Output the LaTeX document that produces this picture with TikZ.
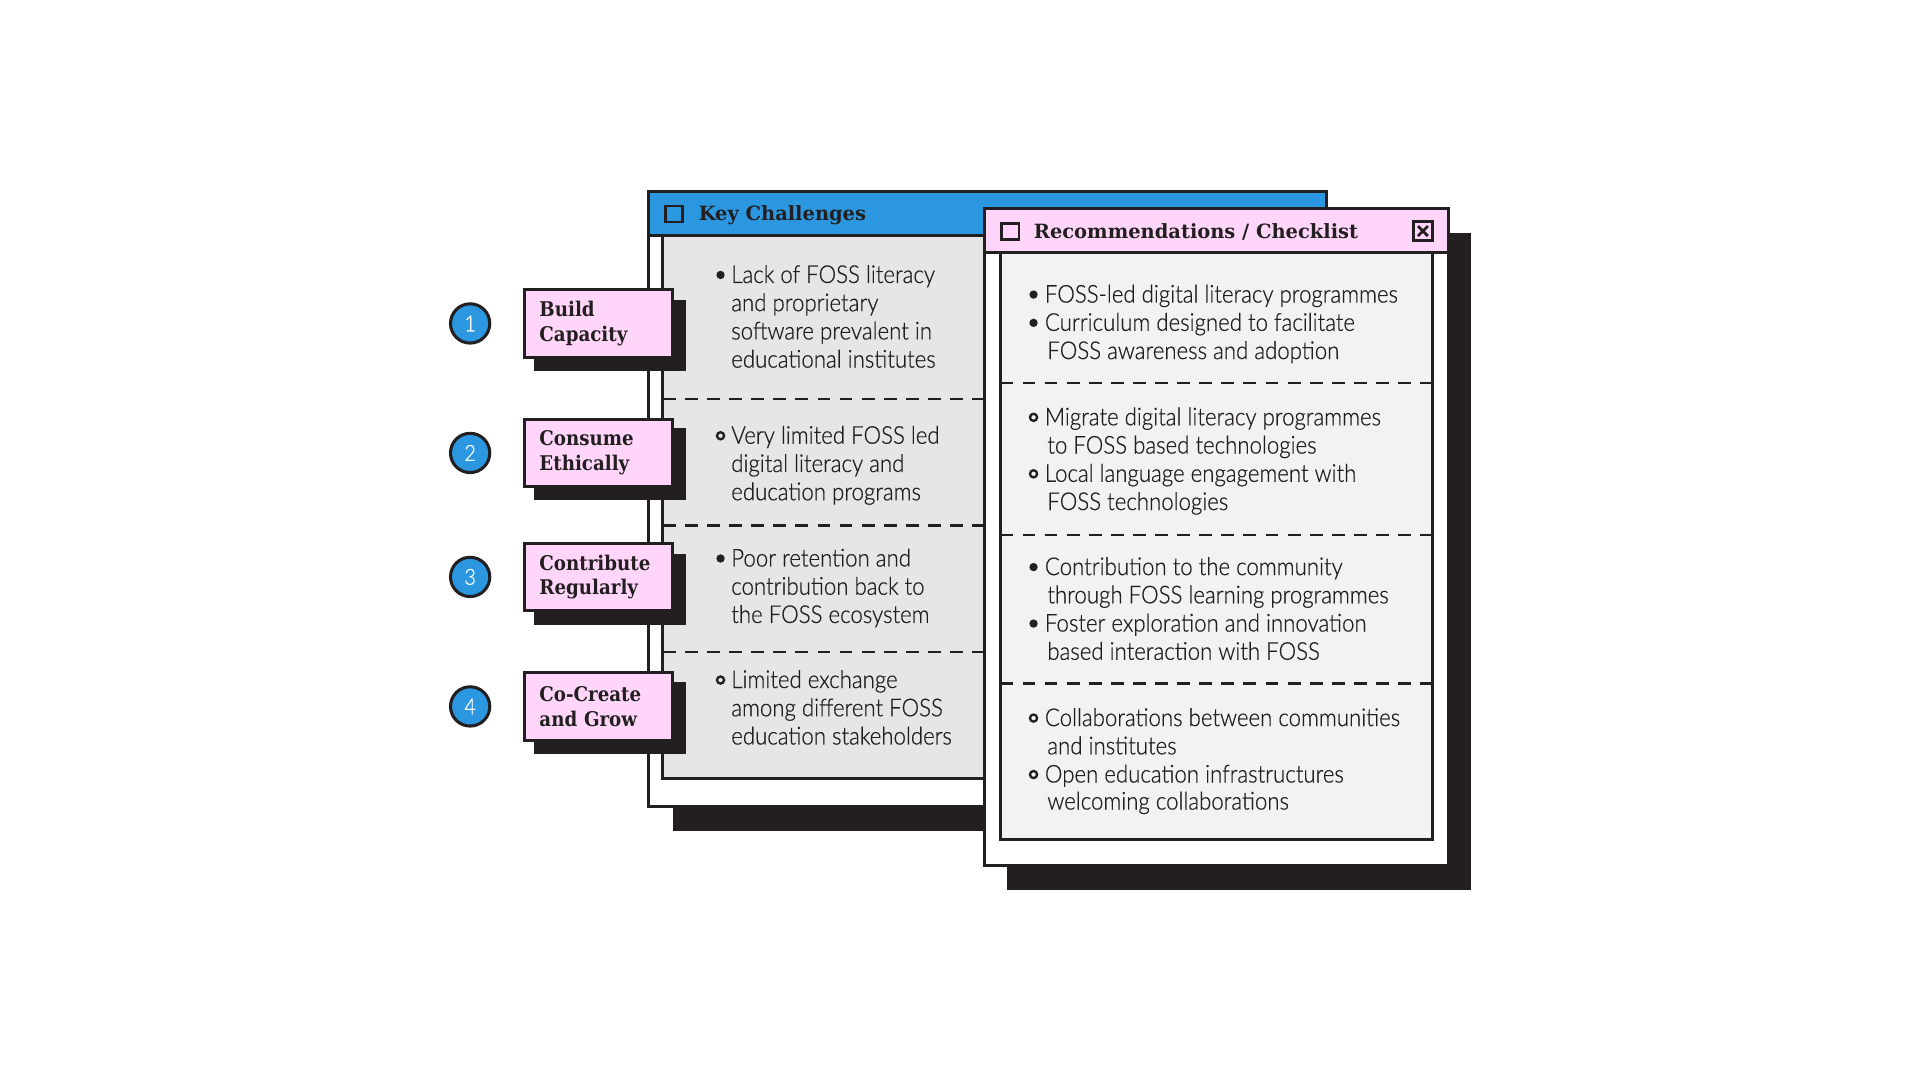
\documentclass[tikz,border=0pt]{standalone}
\usepackage{fontspec}
\setmainfont{Lato Light}[FakeStretch=0.905,FakeBold=0.6]
\newfontfamily\slabfont{DejaVu Serif}[FakeStretch=0.9]
\newfontfamily\headfont{DejaVu Serif}[FakeStretch=0.99]
\usetikzlibrary{positioning}
\definecolor{inkdark}{HTML}{231F20}
\definecolor{winblue}{HTML}{2B97E0}
\definecolor{winpink}{HTML}{FFD6F9}
\definecolor{panelgray}{HTML}{E6E6E6}
\definecolor{panellight}{HTML}{F2F2F2}
\tikzset{every picture/.style={line width=2.5pt}}

\begin{document}
\begin{tikzpicture}[x=1pt,y=1pt,yscale=-1,xscale=1,
	frame/.style={draw=inkdark, line width=2.5pt},
	shadowbox/.style={fill=inkdark},
	divider/.style={draw=inkdark, line width=2pt, dash pattern=on 10.5pt off 7.5pt},
	bodytext/.style={anchor=base west, inner sep=0pt, font=\fontsize{20}{23}\selectfont, text=inkdark},
	titletext/.style={anchor=west, inner sep=0pt, font=\headfont\bfseries\fontsize{16}{20}\selectfont, text=inkdark},
	labelbox/.style={draw=inkdark, line width=2.5pt, fill=winpink, minimum width=121pt, minimum height=55pt, text width=96pt, align=left, inner sep=0pt, font=\slabfont\bfseries\fontsize{16.5}{20}\selectfont, text=inkdark},
	numdot/.style={circle, draw=inkdark, line width=2.5pt, fill=winblue, minimum size=32pt, inner sep=0pt, text=white, font=\fontsize{18}{18}\selectfont},
	fullbullet/.style={fill=inkdark},
	openbullet/.style={draw=inkdark, line width=1.9pt},
	]
	\path (0,0) rectangle (1565,880.7); %page size

	%Key Challenges window
	\fill[shadowbox] (548,176) rectangle (1101,677);
	\draw[frame, fill=white] (528,156) rectangle (1081,657);
	\draw[frame, fill=panelgray] (540,192) rectangle (1069,634);
	\draw[frame, fill=winblue] (528,156) rectangle (1081,192);
	\draw[inkdark, line width=2pt] (542,168) rectangle (556,181);
	\node[titletext] (kctitle) at (568,175) {Key Challenges};
	%dividers
	\draw[divider] (540,325) -- (1069,325);
	\draw[divider] (540,428) -- (1069,428);
	\draw[divider] (540,531) -- (1069,531);

	% Text Node
	\fill[fullbullet] (587,224) circle (3.4);
	\node[bodytext] (kc1a) at (594.5,230.5) {Lack of FOSS literacy};
	\node[bodytext] (kc1b) at (594.5,253.5) {and proprietary};
	\node[bodytext] (kc1c) at (594.5,276.5) {software prevalent in};
	\node[bodytext] (kc1d) at (594.5,299.5) {educational institutes};
	% Text Node
	\draw[openbullet] (587,355) circle (2.9);
	\node[bodytext] (kc2a) at (594.5,361.5) {Very limited FOSS led};
	\node[bodytext] (kc2b) at (594.5,384.5) {digital literacy and};
	\node[bodytext] (kc2c) at (594.5,407.5) {education programs};
	% Text Node
	\fill[fullbullet] (587,455) circle (3.4);
	\node[bodytext] (kc3a) at (594.5,461.5) {Poor retention and};
	\node[bodytext] (kc3b) at (594.5,484.5) {contribution back to};
	\node[bodytext] (kc3c) at (594.5,507.5) {the FOSS ecosystem};
	% Text Node
	\draw[openbullet] (587,554) circle (2.9);
	\node[bodytext] (kc4a) at (594.5,560.5) {Limited exchange};
	\node[bodytext] (kc4b) at (594.5,583.5) {among different FOSS};
	\node[bodytext] (kc4c) at (594.5,606.5) {education stakeholders};

	%Step labels
	\fill[shadowbox] (435,244) rectangle (559,302);
	\node[labelbox] (capacity) at (487.5,263.5) {Build\\Capacity};
	\fill[shadowbox] (435,349) rectangle (559,407);
	\node[labelbox] (ethically) at (487.5,369) {Consume\\Ethically};
	\fill[shadowbox] (435,451) rectangle (559,509);
	\node[labelbox] (regularly) at (487.5,470) {Contribute\\Regularly};
	\fill[shadowbox] (435,556) rectangle (559,614);
	\node[labelbox] (cocreate) at (487.5,575.5) {Co-Create\\and Grow};

	\node[numdot, left=25.5pt of capacity] (step1) {1};
	\node[numdot, left=25.5pt of ethically] (step2) {2};
	\node[numdot, left=25.5pt of regularly] (step3) {3};
	\node[numdot, left=25.5pt of cocreate] (step4) {4};

	%Recommendations window
	\fill[shadowbox] (820,190) rectangle (1198,725);
	\draw[frame, fill=white] (802,170) rectangle (1180,705);
	\draw[frame, fill=panellight] (815,206) rectangle (1167,684);
	\draw[frame, fill=winpink] (802,170) rectangle (1180,206);
	\draw[inkdark, line width=2pt] (816,182) rectangle (830,195);
	\node[titletext] (rectitle) at (841,189) {Recommendations / Checklist};
	\draw[inkdark, line width=2pt] (1151.5,180.5) rectangle (1167,196);
	\draw[inkdark, line width=2.2pt] (1155.2,184.2) -- (1163.3,192.3) (1163.3,184.2) -- (1155.2,192.3);
	%dividers
	\draw[divider] (815,312) -- (1167,312);
	\draw[divider] (815,436) -- (1167,436);
	\draw[divider] (815,557) -- (1167,557);

	% Text Node
	\fill[fullbullet] (842,240) circle (3.4);
	\node[bodytext] (rc1a) at (850,246.5) {FOSS-led digital literacy programmes};
	\fill[fullbullet] (842,263) circle (3.4);
	\node[bodytext] (rc1b) at (850,269.5) {Curriculum designed to facilitate};
	\node[bodytext] (rc1c) at (852,292.5) {FOSS awareness and adoption};
	% Text Node
	\draw[openbullet] (842,340) circle (2.9);
	\node[bodytext] (rc2a) at (850,346.5) {Migrate digital literacy programmes};
	\node[bodytext] (rc2b) at (852,369.5) {to FOSS based technologies};
	\draw[openbullet] (842,386) circle (2.9);
	\node[bodytext] (rc2c) at (850,392.5) {Local language engagement with};
	\node[bodytext] (rc2d) at (852,415.5) {FOSS technologies};
	% Text Node
	\fill[fullbullet] (842,462) circle (3.4);
	\node[bodytext] (rc3a) at (850,468.5) {Contribution to the community};
	\node[bodytext] (rc3b) at (852,491.5) {through FOSS learning programmes};
	\fill[fullbullet] (842,508) circle (3.4);
	\node[bodytext] (rc3c) at (850,514.5) {Foster exploration and innovation};
	\node[bodytext] (rc3d) at (852,537.5) {based interaction with FOSS};
	% Text Node
	\draw[openbullet] (842,585) circle (2.9);
	\node[bodytext] (rc4a) at (850,591.5) {Collaborations between communities};
	\node[bodytext] (rc4b) at (852,614.5) {and institutes};
	\draw[openbullet] (842,631) circle (2.9);
	\node[bodytext] (rc4c) at (850,637.5) {Open education infrastructures};
	\node[bodytext] (rc4d) at (852,659.5) {welcoming collaborations};
\end{tikzpicture}
\end{document}
